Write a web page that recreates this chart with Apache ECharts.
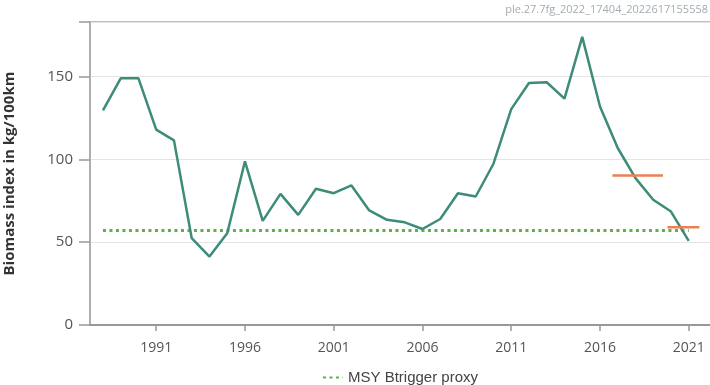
<!DOCTYPE html>
<html>
<head>
<meta charset="utf-8">
<script src="https://cdn.jsdelivr.net/npm/echarts@6/dist/echarts.min.js"></script>
<style>
  html, body { margin: 0; padding: 0; background: #fff; }
  #chart { width: 710px; height: 385px; }
</style>
</head>
<body>
<div id="chart"></div>
<script>
// Survey biomass index by year
const years = [1988, 1989, 1990, 1991, 1992, 1993, 1994, 1995, 1996, 1997, 1998, 1999,
  2000, 2001, 2002, 2003, 2004, 2005, 2006, 2007, 2008, 2009, 2010, 2011,
  2012, 2013, 2014, 2015, 2016, 2017, 2018, 2019, 2020, 2021];
const biomass = [129.6, 149, 149, 118, 111.5, 52.4, 41.3, 55.4, 98.8, 62.9, 79.2, 66.5,
  82.3, 79.6, 84.3, 69.2, 63.5, 62, 58, 64, 79.6, 77.6, 97.4, 130.4,
  146.2, 146.6, 136.7, 174, 132, 106.9, 88.7, 75.6, 68.5, 50.8];

// MSY Btrigger proxy reference level
const btriggerName = 'MSY Btrigger proxy';
const btriggerValue = 57;
const btriggerYears = [1988, 2021];

// Index means over the advice periods
const meanFrom = [2016.7, 2019.8];
const meanTo = [2019.55, 2021.6];
const meanValue = [90.3, 59.1];

// Axis ticks
const xTickYears = [1991, 1996, 2001, 2006, 2011, 2016, 2021];
const yTicks = [0, 50, 100, 150];

const sansFont = '"Open Sans", "Liberation Sans", sans-serif';
const legendFont = '"Liberation Sans", Arial, sans-serif';

const chart = echarts.init(document.getElementById('chart'), null, { renderer: 'canvas' });

const meanSeries = meanFrom.map((from, i) => ({
  type: 'line',
  name: 'mean' + i,
  data: [[from, meanValue[i]], [meanTo[i], meanValue[i]]],
  symbol: 'none',
  silent: true,
  lineStyle: { color: '#ef7f52', width: 2.5 },
  z: 4
}));

chart.setOption({
  animation: false,
  textStyle: { fontFamily: sansFont },
  grid: {
    left: 90, right: -5, top: 22, bottom: 60,
    outerBoundsMode: 'none',
    show: true, borderColor: '#a9a9a9', borderWidth: 1.5
  },
  graphic: [{
    type: 'text',
    right: 2, top: 4,
    style: {
      text: 'ple.27.7fg_2022_17404_2022617155558',
      fill: '#a3acb2',
      font: '11px ' + sansFont
    }
  }],
  legend: {
    data: [btriggerName],
    left: 317, top: 365,
    itemWidth: 20, itemHeight: 12, itemGap: 6,
    itemStyle: { opacity: 0 },
    textStyle: { fontSize: 15, color: '#444', fontFamily: legendFont }
  },
  xAxis: {
    type: 'value',
    min: 1987.27, max: 2022.48,
    axisLine: { show: true, lineStyle: { color: '#999', width: 2 } },
    axisTick: { show: true, customValues: xTickYears, length: 6, lineStyle: { color: '#999', width: 1.5 } },
    axisLabel: {
      customValues: xTickYears,
      formatter: v => String(v),
      fontSize: 14, color: '#555', margin: 16, fontFamily: sansFont
    },
    splitLine: { show: false }
  },
  yAxis: {
    type: 'value',
    min: 0, max: 183, interval: 50,
    name: 'Biomass index in kg/100km',
    nameLocation: 'middle',
    nameGap: 73,
    nameTextStyle: { fontSize: 15, fontWeight: 'bold', color: '#333', fontFamily: sansFont },
    axisLine: { show: true, lineStyle: { color: '#a9a9a9', width: 1.5 } },
    axisTick: { show: true, length: 11, lineStyle: { color: '#999', width: 1.5 } },
    axisLabel: {
      customValues: yTicks,
      fontSize: 15, color: '#555', margin: 17, fontFamily: sansFont
    },
    splitLine: { show: true, lineStyle: { color: '#e4e4e4', width: 1 } }
  },
  series: [
    {
      type: 'line',
      name: 'Biomass index',
      data: years.map((y, i) => [y, biomass[i]]),
      symbol: 'none',
      lineStyle: { color: '#3d8b79', width: 2.5 },
      itemStyle: { color: '#3d8b79' },
      z: 3
    },
    {
      type: 'line',
      name: btriggerName,
      data: btriggerYears.map(y => [y, btriggerValue]),
      symbol: 'none',
      lineStyle: { color: '#5db04c', width: 3, type: [3, 3.5] },
      itemStyle: { color: '#5db04c' },
      z: 2
    },
    ...meanSeries
  ]
});
</script>
</body>
</html>
